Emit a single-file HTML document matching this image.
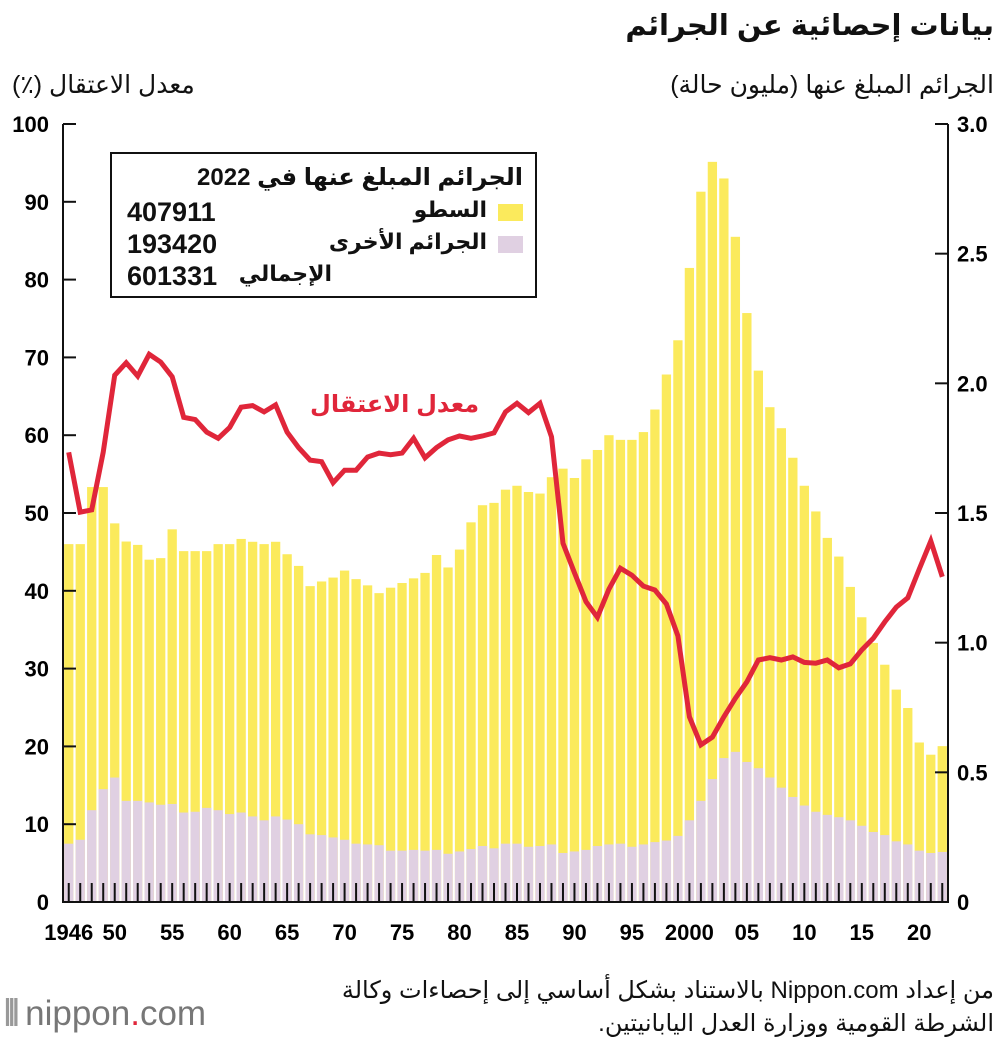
<!DOCTYPE html>
<html><head><meta charset="utf-8">
<style>
body{margin:0;width:1000px;height:1040px;background:#fff;position:relative;overflow:hidden;font-family:"Liberation Sans","DejaVu Sans",sans-serif;color:#111}
.t{position:absolute;white-space:nowrap}
.r{direction:rtl;text-align:right}
</style></head><body>
<div class="t r" style="right:6px;top:8px;font-size:29px;font-weight:bold">بيانات إحصائية عن الجرائم</div>
<div class="t r" style="left:12px;top:70px;font-size:25px">معدل الاعتقال (٪)</div>
<div class="t r" style="right:6px;top:70px;font-size:25px">الجرائم المبلغ عنها (مليون حالة)</div>
<svg id="chart" width="1000" height="960" style="position:absolute;left:0;top:0"></svg>
<div style="position:absolute;left:110px;top:152px;width:423px;height:142px;border:2px solid #111;background:#fff">
 <div class="t r" style="right:12px;top:9px;font-size:24px;font-weight:bold">الجرائم المبلغ عنها في 2022</div>
 <div style="position:absolute;right:12px;top:50px;width:25px;height:17px;background:#fbea5c"></div>
 <div class="t r" style="right:48px;top:43px;font-size:22px;font-weight:bold">السطو</div>
 <div class="t" style="left:15px;top:43px;font-size:27px;font-weight:bold">407911</div>
 <div style="position:absolute;right:12px;top:82px;width:25px;height:17px;background:#e0d0e2"></div>
 <div class="t r" style="right:48px;top:75px;font-size:22px;font-weight:bold">الجرائم الأخرى</div>
 <div class="t" style="left:15px;top:75px;font-size:27px;font-weight:bold">193420</div>
 <div class="t r" style="right:203px;top:107px;font-size:22px;font-weight:bold">الإجمالي</div>
 <div class="t" style="left:15px;top:107px;font-size:27px;font-weight:bold">601331</div>
</div>
<div class="t r" style="left:310px;top:390px;font-size:24px;font-weight:bold;color:#e0263a">معدل الاعتقال</div>
<div class="t r" style="right:6px;top:974px;font-size:24px;line-height:33px">من إعداد Nippon.com بالاستناد بشكل أساسي إلى إحصاءات وكالة<br>الشرطة القومية ووزارة العدل اليابانيتين.</div>
<div class="t" style="left:4px;top:994px;font-size:35px;color:#777"><span style="letter-spacing:-4px;font-weight:bold;color:#999">⦀</span> nippon<span style="color:#e0263a">.</span>com</div>
<script>
const years=[];for(let y=1946;y<=2022;y++)years.push(y);
// total reported crimes (millions)
const totalM=[1.38,1.38,1.60,1.60,1.46,1.39,1.377,1.32,1.326,1.437,1.353,1.353,1.353,1.38,1.38,1.40,1.389,1.38,1.389,1.341,1.296,1.218,1.236,1.251,1.278,1.245,1.221,1.191,1.212,1.23,1.248,1.269,1.338,1.29,1.359,1.464,1.53,1.539,1.59,1.605,1.581,1.575,1.638,1.671,1.635,1.707,1.743,1.80,1.782,1.782,1.812,1.899,2.034,2.166,2.445,2.739,2.854,2.79,2.565,2.271,2.049,1.908,1.827,1.713,1.605,1.506,1.404,1.332,1.215,1.098,0.999,0.915,0.819,0.748,0.615,0.568,0.601];
// other (non-theft) crimes (millions)
const otherM=[0.225,0.24,0.354,0.435,0.48,0.39,0.39,0.384,0.375,0.378,0.345,0.348,0.363,0.354,0.339,0.345,0.33,0.315,0.33,0.318,0.30,0.261,0.258,0.249,0.24,0.225,0.222,0.219,0.198,0.198,0.201,0.198,0.201,0.186,0.195,0.204,0.216,0.207,0.225,0.225,0.213,0.216,0.222,0.189,0.195,0.201,0.216,0.222,0.225,0.213,0.222,0.231,0.237,0.255,0.315,0.39,0.474,0.555,0.579,0.54,0.516,0.48,0.441,0.405,0.372,0.348,0.336,0.327,0.315,0.294,0.27,0.258,0.234,0.222,0.198,0.189,0.193];
// arrest rate (%)
const rate=[57.8,50.1,50.4,57.8,67.7,69.3,67.6,70.4,69.4,67.5,62.3,62,60.4,59.6,61,63.6,63.8,63,63.9,60.4,58.4,56.8,56.6,53.9,55.5,55.5,57.2,57.7,57.5,57.7,59.6,57.1,58.4,59.4,59.9,59.6,59.9,60.3,63,64.1,62.9,64.1,59.8,46.1,42.3,38.6,36.6,40.2,42.9,42,40.6,40.1,38.3,34.2,23.8,20.2,21.2,23.8,26.2,28.3,31.1,31.4,31.1,31.5,30.8,30.7,31.1,30.1,30.6,32.4,33.9,36,37.9,39.1,42.8,46.4,41.8];
const leftTicks=[0,10,20,30,40,50,60,70,80,90,100];
const rightTicks=["0","0.5","1.0","1.5","2.0","2.5","3.0"];
const xLabels=[[1946,"1946"],[1950,"50"],[1955,"55"],[1960,"60"],[1965,"65"],[1970,"70"],[1975,"75"],[1980,"80"],[1985,"85"],[1990,"90"],[1995,"95"],[2000,"2000"],[2005,"05"],[2010,"10"],[2015,"15"],[2020,"20"]];
const X0=63,X1=948,Y0=902,Y1=124;
const step=(X1-X0)/years.length;
const xc=y=>X0+(y-1946+0.5)*step;
const yP=v=>Y0-(v/100)*(Y0-Y1);
const yM=v=>Y0-(v/3)*(Y0-Y1);
const svg=document.getElementById('chart');const NS='http://www.w3.org/2000/svg';
function mk(tag,at){const e=document.createElementNS(NS,tag);for(const k in at)e.setAttribute(k,at[k]);svg.appendChild(e);return e;}
const bw=step-2.2;
years.forEach((yr,i)=>{
 const b=mk('rect',{x:xc(yr)-bw/2,y:yM(totalM[i]),width:bw,height:Y0-yM(totalM[i]),fill:'#fbea5c'});
 
 
 const o=mk('rect',{x:xc(yr)-bw/2,y:yM(otherM[i]),width:bw,height:Y0-yM(otherM[i]),fill:'#e0d0e2'});
 
 
 const t=mk('line',{x1:xc(yr),x2:xc(yr),y1:883,y2:Y0,stroke:'#111','stroke-width':2});
 
 
});
const pts=years.map((yr,i)=>xc(yr).toFixed(1)+','+yP(rate[i]).toFixed(1)).join(' ');
const ln=mk('polyline',{points:pts,fill:'none',stroke:'#e0263a','stroke-width':5,'stroke-linejoin':'miter'});


const ax=mk('path',{d:`M${X0},${Y1}V${Y0}H${X1}V${Y1}`,fill:'none',stroke:'#111','stroke-width':2});


leftTicks.forEach(v=>{
 const l=mk('line',{x1:X0,x2:X0+13,y1:yP(v),y2:yP(v),stroke:'#111','stroke-width':2});
 
 
 const t=mk('text',{x:49,y:yP(v)+8,'text-anchor':'end','font-size':22,'font-family':'Liberation Sans, sans-serif','font-weight':'bold'});
 t.textContent=v;
 
 
});
rightTicks.forEach(s=>{
 const v=parseFloat(s);
 const l=mk('line',{x1:X1-13,x2:X1,y1:yM(v),y2:yM(v),stroke:'#111','stroke-width':2});
 
 
 const t=mk('text',{x:957,y:yM(v)+8,'text-anchor':'start','font-size':22,'font-family':'Liberation Sans, sans-serif','font-weight':'bold'});
 t.textContent=s;
 
 
});
xLabels.forEach(([yr,s])=>{
 const t=mk('text',{x:xc(yr),y:940,'text-anchor':'middle','font-size':22,'font-family':'Liberation Sans, sans-serif','font-weight':'bold'});
 t.textContent=s;
 
 
});
</script>
</body></html>
